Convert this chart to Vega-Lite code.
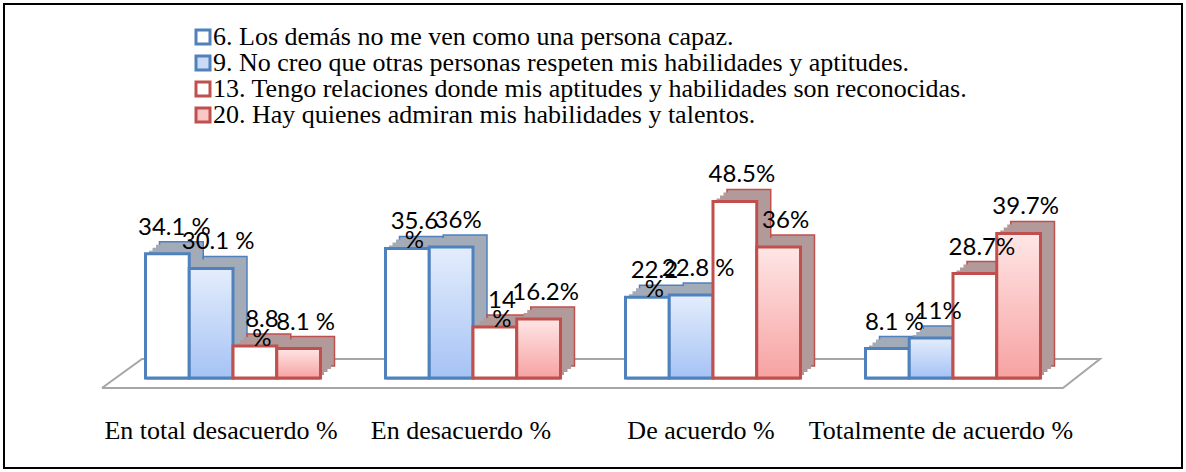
{
  "$schema": "https://vega.github.io/schema/vega-lite/v6.json",
  "width": 1178,
  "height": 464,
  "autosize": {"type": "none"},
  "padding": {"left": 4, "top": 4, "right": 4, "bottom": 4},
  "background": "white",
  "config": {"font": "Liberation Serif", "view": {"stroke": "black", "strokeWidth": 2}, "legend": {"labelFont": "Liberation Serif"}, "text": {"font": "Lato"}},
  "data": {"values": [
    {"cat": "En total desacuerdo %", "serie": "6. Los demás no me ven como una persona capaz.", "v": 34.1, "label": "34.1 %"},
    {"cat": "En total desacuerdo %", "serie": "9. No creo que otras personas respeten mis habilidades y aptitudes.", "v": 30.1, "label": "30.1  %"},
    {"cat": "En total desacuerdo %", "serie": "13. Tengo relaciones donde mis aptitudes y habilidades son reconocidas.", "v": 8.8, "label": "8.8\n%"},
    {"cat": "En total desacuerdo %", "serie": "20. Hay quienes admiran mis habilidades y talentos.", "v": 8.1, "label": "8.1 %"},
    {"cat": "En desacuerdo %", "serie": "6. Los demás no me ven como una persona capaz.", "v": 35.6, "label": "35.6\n%"},
    {"cat": "En desacuerdo %", "serie": "9. No creo que otras personas respeten mis habilidades y aptitudes.", "v": 36, "label": "36%"},
    {"cat": "En desacuerdo %", "serie": "13. Tengo relaciones donde mis aptitudes y habilidades son reconocidas.", "v": 14, "label": "14\n%"},
    {"cat": "En desacuerdo %", "serie": "20. Hay quienes admiran mis habilidades y talentos.", "v": 16.2, "label": "16.2%"},
    {"cat": "De acuerdo %", "serie": "6. Los demás no me ven como una persona capaz.", "v": 22.2, "label": "22.2\n%"},
    {"cat": "De acuerdo %", "serie": "9. No creo que otras personas respeten mis habilidades y aptitudes.", "v": 22.8, "label": "22.8 %"},
    {"cat": "De acuerdo %", "serie": "13. Tengo relaciones donde mis aptitudes y habilidades son reconocidas.", "v": 48.5, "label": "48.5%"},
    {"cat": "De acuerdo %", "serie": "20. Hay quienes admiran mis habilidades y talentos.", "v": 36, "label": "36%"},
    {"cat": "Totalmente de acuerdo %", "serie": "6. Los demás no me ven como una persona capaz.", "v": 8.1, "label": "8.1 %"},
    {"cat": "Totalmente de acuerdo %", "serie": "9. No creo que otras personas respeten mis habilidades y aptitudes.", "v": 11, "label": "11%"},
    {"cat": "Totalmente de acuerdo %", "serie": "13. Tengo relaciones donde mis aptitudes y habilidades son reconocidas.", "v": 28.7, "label": "28.7%"},
    {"cat": "Totalmente de acuerdo %", "serie": "20. Hay quienes admiran mis habilidades y talentos.", "v": 39.7, "label": "39.7%"}
  ]},
  "resolve": {"scale": {"x": "independent"}, "axis": {"x": "independent"}},
  "layer": [
    {
      "data": {"values": [
        {"k": 1, "fx": -0.046, "fy": -2.75},
        {"k": 2, "fx": 3.958, "fy": -2.75},
        {"k": 3, "fx": 4.1125, "fy": 5.22},
        {"k": 4, "fx": 0.121, "fy": 5.22},
        {"k": 5, "fx": -0.046, "fy": -2.75}
      ]},
      "mark": {"type": "line", "stroke": "#A6A6A6", "strokeWidth": 2},
      "encoding": {
        "x": {"field": "fx", "type": "quantitative", "scale": {"domain": [-0.454, 4.454], "nice": false, "zero": false}, "axis": null},
        "y": {"field": "fy", "type": "quantitative", "scale": {"domain": [-24.73, 102.75], "nice": false, "zero": false}, "axis": null},
        "order": {"field": "k", "type": "quantitative"}
      }
    },
    {
      "resolve": {"scale": {"xOffset": "independent"}},
      "layer": [
        {
          "mark": {"type": "bar", "strokeWidth": 3},
          "encoding": {
            "xOffset": {"field": "serie", "type": "nominal", "sort": ["6. Los demás no me ven como una persona capaz.", "9. No creo que otras personas respeten mis habilidades y aptitudes.", "13. Tengo relaciones donde mis aptitudes y habilidades son reconocidas.", "20. Hay quienes admiran mis habilidades y talentos."], "scale": {"paddingInner": 0, "paddingOuter": 0}},
            "y": {"datum": 0, "type": "quantitative", "scale": {"domain": [-24.73, 102.75], "nice": false, "zero": false}, "axis": null},
            "fill": {"field": "serie", "type": "nominal",
              "scale": {"domain": ["6. Los demás no me ven como una persona capaz.", "9. No creo que otras personas respeten mis habilidades y aptitudes.", "13. Tengo relaciones donde mis aptitudes y habilidades son reconocidas.", "20. Hay quienes admiran mis habilidades y talentos."], "range": ["#FFFFFF", "#C9DBF8", "#FFFFFF", "#FAC6C6"]},
              "legend": {"title": null, "orient": "none", "legendX": 186, "legendY": 20, "padding": 0, "symbolType": "square", "symbolSize": 196, "symbolStrokeWidth": 3, "symbolOpacity": 1, "labelFont": "Liberation Serif", "labelFontSize": 26, "labelColor": "black", "labelLimit": 1000, "labelOffset": -3, "rowPadding": -10}},
            "stroke": {"field": "serie", "type": "nominal",
              "scale": {"domain": ["6. Los demás no me ven como una persona capaz.", "9. No creo que otras personas respeten mis habilidades y aptitudes.", "13. Tengo relaciones donde mis aptitudes y habilidades son reconocidas.", "20. Hay quienes admiran mis habilidades y talentos."], "range": ["#4F81BD", "#4F81BD", "#C0504D", "#C0504D"]},
              "legend": {"title": null, "orient": "none", "legendX": 186, "legendY": 20, "padding": 0, "symbolType": "square", "symbolSize": 196, "symbolStrokeWidth": 3, "symbolOpacity": 1, "labelFont": "Liberation Serif", "labelFontSize": 26, "labelColor": "black", "labelLimit": 1000, "labelOffset": -3, "rowPadding": -10}}
          }
        },
        {
          "mark": {"type": "bar", "yOffset": -12, "y2Offset": -12, "strokeWidth": 1.5},
          "encoding": {
            "xOffset": {"field": "serie", "type": "nominal", "sort": ["6. Los demás no me ven como una persona capaz.", "9. No creo que otras personas respeten mis habilidades y aptitudes.", "13. Tengo relaciones donde mis aptitudes y habilidades son reconocidas.", "20. Hay quienes admiran mis habilidades y talentos."], "scale": {"range": [14, 189], "paddingInner": 0, "paddingOuter": 0}},
            "fill": {"condition": [{"test": "substring(datum.serie,0,2) === '6.' || substring(datum.serie,0,2) === '9.'", "value": "#A3ABB8"}], "value": "#B39A9A"},
            "stroke": {"condition": [{"test": "substring(datum.serie,0,2) === '6.' || substring(datum.serie,0,2) === '9.'", "value": "#4F81BD"}], "value": "#C0504D"}
          }
        },
        {
          "mark": {"type": "bar", "yOffset": -9, "y2Offset": -9, "strokeWidth": 0},
          "encoding": {
            "xOffset": {"field": "serie", "type": "nominal", "sort": ["6. Los demás no me ven como una persona capaz.", "9. No creo que otras personas respeten mis habilidades y aptitudes.", "13. Tengo relaciones donde mis aptitudes y habilidades son reconocidas.", "20. Hay quienes admiran mis habilidades y talentos."], "scale": {"range": [10.5, 185.5], "paddingInner": 0, "paddingOuter": 0}},
            "fill": {"condition": [{"test": "substring(datum.serie,0,2) === '6.' || substring(datum.serie,0,2) === '9.'", "value": "#A3ABB8"}], "value": "#B39A9A"}
          }
        },
        {
          "mark": {"type": "bar", "yOffset": -6, "y2Offset": -6, "strokeWidth": 0},
          "encoding": {
            "xOffset": {"field": "serie", "type": "nominal", "sort": ["6. Los demás no me ven como una persona capaz.", "9. No creo que otras personas respeten mis habilidades y aptitudes.", "13. Tengo relaciones donde mis aptitudes y habilidades son reconocidas.", "20. Hay quienes admiran mis habilidades y talentos."], "scale": {"range": [7, 182], "paddingInner": 0, "paddingOuter": 0}},
            "fill": {"condition": [{"test": "substring(datum.serie,0,2) === '6.' || substring(datum.serie,0,2) === '9.'", "value": "#A3ABB8"}], "value": "#B39A9A"}
          }
        },
        {
          "mark": {"type": "bar", "yOffset": -3, "y2Offset": -3, "strokeWidth": 0},
          "encoding": {
            "xOffset": {"field": "serie", "type": "nominal", "sort": ["6. Los demás no me ven como una persona capaz.", "9. No creo que otras personas respeten mis habilidades y aptitudes.", "13. Tengo relaciones donde mis aptitudes y habilidades son reconocidas.", "20. Hay quienes admiran mis habilidades y talentos."], "scale": {"range": [3.5, 178.5], "paddingInner": 0, "paddingOuter": 0}},
            "fill": {"condition": [{"test": "substring(datum.serie,0,2) === '6.' || substring(datum.serie,0,2) === '9.'", "value": "#A3ABB8"}], "value": "#B39A9A"}
          }
        },
        {
          "mark": {"type": "bar", "strokeWidth": 3},
          "encoding": {
            "xOffset": {"field": "serie", "type": "nominal", "sort": ["6. Los demás no me ven como una persona capaz.", "9. No creo que otras personas respeten mis habilidades y aptitudes.", "13. Tengo relaciones donde mis aptitudes y habilidades son reconocidas.", "20. Hay quienes admiran mis habilidades y talentos."], "scale": {"paddingInner": 0, "paddingOuter": 0}},
            "fill": {"condition": [
              {"test": "substring(datum.serie,0,2) === '9.'", "value": {"gradient": "linear", "x1": 0, "y1": 0, "x2": 0, "y2": 1, "stops": [{"offset": 0, "color": "#E4EDFC"}, {"offset": 1, "color": "#A6C3F5"}]}},
              {"test": "substring(datum.serie,0,2) === '20'", "value": {"gradient": "linear", "x1": 0, "y1": 0, "x2": 0, "y2": 1, "stops": [{"offset": 0, "color": "#FFE6E6"}, {"offset": 1, "color": "#F7A2A2"}]}}
            ], "value": "white"},
            "stroke": {"condition": [{"test": "substring(datum.serie,0,2) === '6.' || substring(datum.serie,0,2) === '9.'", "value": "#4F81BD"}], "value": "#C0504D"}
          }
        },
        {
          "mark": {"type": "text", "fontSize": 24, "color": "black", "align": "center", "baseline": "alphabetic", "dx": 7, "dy": -19, "lineBreak": "\n", "lineHeight": 19},
          "encoding": {
            "xOffset": {"field": "serie", "type": "nominal", "sort": ["6. Los demás no me ven como una persona capaz.", "9. No creo que otras personas respeten mis habilidades y aptitudes.", "13. Tengo relaciones donde mis aptitudes y habilidades son reconocidas.", "20. Hay quienes admiran mis habilidades y talentos."], "scale": {"type": "band", "paddingInner": 0, "paddingOuter": 0}},
            "text": {"field": "label"}
          }
        }
      ],
      "encoding": {
        "x": {"field": "cat", "type": "nominal", "sort": ["En total desacuerdo %", "En desacuerdo %", "De acuerdo %", "Totalmente de acuerdo %"],
              "scale": {"paddingInner": 0.2708, "paddingOuter": 0.5896},
              "axis": {"title": null, "domain": false, "ticks": false, "labelAngle": 0, "labelFont": "Liberation Serif", "labelFontSize": 26, "labelColor": "black", "labelOffset": -12, "offset": -38, "labelPadding": 0, "labelBaseline": "middle", "labelLimit": 400}},
        "y": {"field": "v", "type": "quantitative", "scale": {"domain": [-24.73, 102.75], "nice": false, "zero": false}, "axis": null},
        "y2": {"datum": 0}
      }
    }
  ]
}
